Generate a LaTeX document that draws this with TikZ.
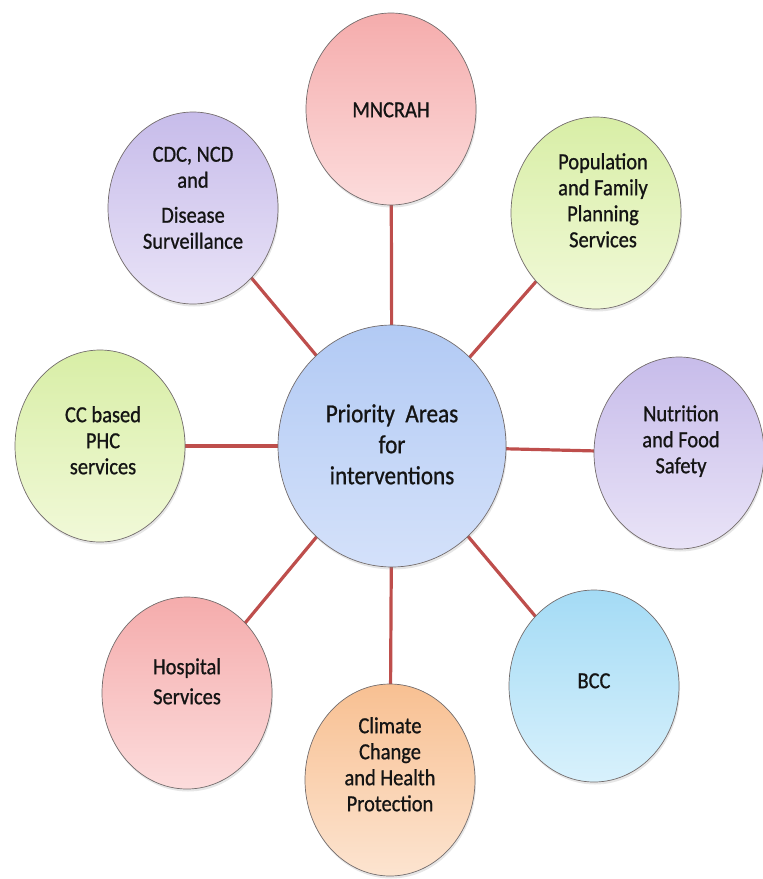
\documentclass[tikz,border=0pt]{standalone}
\usepackage{fontspec}
\setmainfont{Carlito}[FakeBold=0.6]
\newfontfamily\labelfont{Carlito}[FakeBold=0.9]
\usepackage{graphicx}
\usetikzlibrary{shapes.geometric,shadows,backgrounds}
\definecolor{linkred}{RGB}{190,78,76}
\definecolor{rimgray}{RGB}{115,108,108}
\newcommand\sqz[1]{\scalebox{0.89}[1]{\begin{tabular}{@{}c@{}}#1\end{tabular}}}
\tikzset{
  bubble/.style={ellipse, draw=rimgray, line width=0.7pt, minimum width=170pt, minimum height=192pt, inner sep=0pt,
    drop shadow={opacity=0.2, shadow xshift=1pt, shadow yshift=-2.5pt}},
  hub/.style={bubble, minimum width=228pt, minimum height=242pt},
  txt/.style={align=center, font=\labelfont\fontsize{23}{26}\selectfont, text=black!92, inner sep=0pt},
  hubtxt/.style={txt, font=\labelfont\fontsize{26}{31}\selectfont},
  pinkfill/.style={top color={rgb,255:red,245;green,172;blue,172}, bottom color={rgb,255:red,252;green,220;blue,220}},
  greenfill/.style={top color={rgb,255:red,216;green,238;blue,166}, bottom color={rgb,255:red,241;green,249;blue,216}},
  purplefill/.style={top color={rgb,255:red,199;green,188;blue,234}, bottom color={rgb,255:red,233;green,227;blue,247}},
  bluefill/.style={top color={rgb,255:red,178;green,202;blue,244}, bottom color={rgb,255:red,212;green,225;blue,250}},
  cyanfill/.style={top color={rgb,255:red,164;green,219;blue,245}, bottom color={rgb,255:red,216;green,241;blue,252}},
  orangefill/.style={top color={rgb,255:red,248;green,192;blue,146}, bottom color={rgb,255:red,252;green,228;blue,208}},
  link/.style={draw=linkred, line width=3.2pt},
}
\begin{document}
\begin{tikzpicture}[x=1pt,y=1pt]
\useasboundingbox (0,0) rectangle (763,-879);
% bubbles
\node[hub, bluefill] (ctr) at (392,-446) {};
\node[bubble, pinkfill] (mn) at (391,-109) {};
\node[bubble, greenfill] (pop) at (596,-213) {};
\node[bubble, purplefill] (cdc) at (193,-208) {};
\node[bubble, greenfill] (cc) at (100,-446) {};
\node[bubble, purplefill] (nut) at (679,-453) {};
\node[bubble, pinkfill] (hos) at (187,-693) {};
\node[bubble, orangefill] (cli) at (390,-780) {};
\node[bubble, cyanfill] (bcc) at (594,-686) {};
% texts
\node[hubtxt] (ctrT) at (392,-447) {\sqz{Priority\ \ Areas\\for\\interventions}};
\node[txt] (mnT) at (391,-112) {\sqz{MNCRAH}};
\node[txt] (popT) at (603,-203) {\sqz{Population\\and Family\\Planning\\Services}};
\node[txt] (cdcT) at (193,-200) {\sqz{CDC, NCD\\and\\[9pt]Disease\\Surveillance}};
\node[txt] (ccT) at (103,-443) {\sqz{CC based\\PHC\\services}};
\node[txt] (nutT) at (681,-442) {\sqz{Nutrition\\and Food\\Safety}};
\node[txt] (hosT) at (187,-684) {\sqz{Hospital\\[4pt]Services}};
\node[txt] (cliT) at (390,-767) {\sqz{Climate\\Change\\and Health\\Protection}};
\node[txt] (bccT) at (594,-683) {\sqz{BCC}};
% connectors
\begin{scope}[on background layer]
\foreach \n in {mn,pop,cdc,cc,nut,hos,cli,bcc}
  \draw[link] (ctr.center) -- (\n.center);
\end{scope}
\end{tikzpicture}
\end{document}
